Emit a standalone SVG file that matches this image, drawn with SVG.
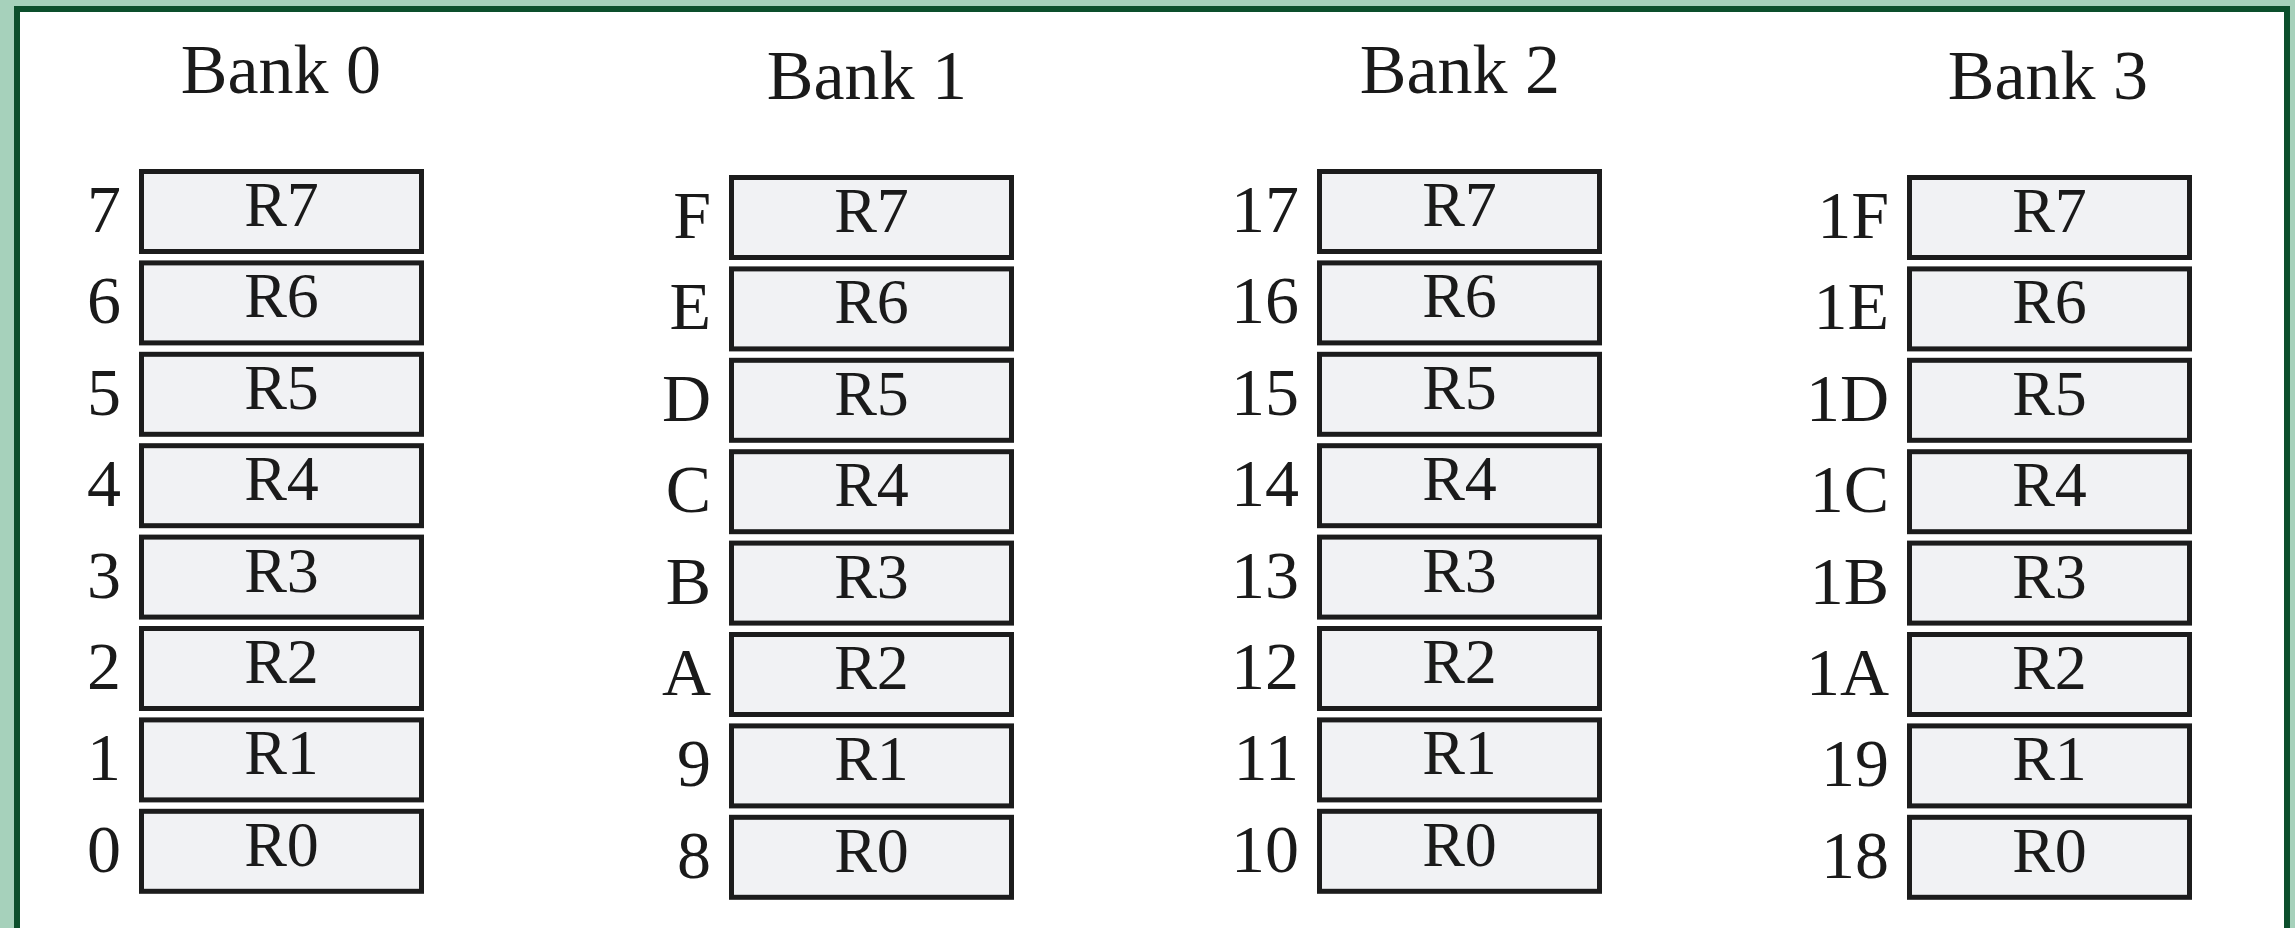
<svg xmlns="http://www.w3.org/2000/svg" width="2295" height="928" viewBox="0 0 2295 928">
  <style>
    .frame { fill: #ffffff; stroke: #0c4f2c; stroke-width: 6; }
    .reg { fill: #f1f2f4; stroke: #1c1c1c; stroke-width: 5; }
    text { font-family: "Liberation Serif", "Times New Roman", serif; fill: #1a1a1a; }
    .title { font-size: 70px; text-anchor: middle; }
    .name { font-size: 64px; text-anchor: middle; }
    .addr { font-size: 68px; text-anchor: end; }
  </style>
  <defs>
    <g id="cell"><rect class="reg" x="2.5" y="2.5" width="280" height="80"/></g>
  </defs>

  <!-- outer page -->
  <rect x="0" y="0" width="2295" height="928" fill="#a6d1bb"/>
  <rect class="frame" x="17" y="9" width="2270" height="940"/>

  <!-- Bank 0: addresses 00-07 -->
  <g id="bank0" transform="translate(139,169)">
    <text class="title" x="142" y="-76">Bank 0</text>
    <g id="bank0-r7" transform="translate(0,0)"><use href="#cell"/><text class="name" x="142.5" y="57">R7</text><text class="addr" x="-18" y="63">7</text></g>
    <g id="bank0-r6" transform="translate(0,91.4)"><use href="#cell"/><text class="name" x="142.5" y="57">R6</text><text class="addr" x="-18" y="63">6</text></g>
    <g id="bank0-r5" transform="translate(0,182.8)"><use href="#cell"/><text class="name" x="142.5" y="57">R5</text><text class="addr" x="-18" y="63">5</text></g>
    <g id="bank0-r4" transform="translate(0,274.2)"><use href="#cell"/><text class="name" x="142.5" y="57">R4</text><text class="addr" x="-18" y="63">4</text></g>
    <g id="bank0-r3" transform="translate(0,365.6)"><use href="#cell"/><text class="name" x="142.5" y="57">R3</text><text class="addr" x="-18" y="63">3</text></g>
    <g id="bank0-r2" transform="translate(0,457)"><use href="#cell"/><text class="name" x="142.5" y="57">R2</text><text class="addr" x="-18" y="63">2</text></g>
    <g id="bank0-r1" transform="translate(0,548.4)"><use href="#cell"/><text class="name" x="142.5" y="57">R1</text><text class="addr" x="-18" y="63">1</text></g>
    <g id="bank0-r0" transform="translate(0,639.8)"><use href="#cell"/><text class="name" x="142.5" y="57">R0</text><text class="addr" x="-18" y="63">0</text></g>
  </g>

  <!-- Bank 1: addresses 08-0F -->
  <g id="bank1" transform="translate(729,175)">
    <text class="title" x="138" y="-76">Bank 1</text>
    <g id="bank1-r7" transform="translate(0,0)"><use href="#cell"/><text class="name" x="142.5" y="57">R7</text><text class="addr" x="-18" y="63">F</text></g>
    <g id="bank1-r6" transform="translate(0,91.4)"><use href="#cell"/><text class="name" x="142.5" y="57">R6</text><text class="addr" x="-18" y="63">E</text></g>
    <g id="bank1-r5" transform="translate(0,182.8)"><use href="#cell"/><text class="name" x="142.5" y="57">R5</text><text class="addr" x="-18" y="63">D</text></g>
    <g id="bank1-r4" transform="translate(0,274.2)"><use href="#cell"/><text class="name" x="142.5" y="57">R4</text><text class="addr" x="-18" y="63">C</text></g>
    <g id="bank1-r3" transform="translate(0,365.6)"><use href="#cell"/><text class="name" x="142.5" y="57">R3</text><text class="addr" x="-18" y="63">B</text></g>
    <g id="bank1-r2" transform="translate(0,457)"><use href="#cell"/><text class="name" x="142.5" y="57">R2</text><text class="addr" x="-18" y="63">A</text></g>
    <g id="bank1-r1" transform="translate(0,548.4)"><use href="#cell"/><text class="name" x="142.5" y="57">R1</text><text class="addr" x="-18" y="63">9</text></g>
    <g id="bank1-r0" transform="translate(0,639.8)"><use href="#cell"/><text class="name" x="142.5" y="57">R0</text><text class="addr" x="-18" y="63">8</text></g>
  </g>

  <!-- Bank 2: addresses 10-17 -->
  <g id="bank2" transform="translate(1317,169)">
    <text class="title" x="143" y="-76">Bank 2</text>
    <g id="bank2-r7" transform="translate(0,0)"><use href="#cell"/><text class="name" x="142.5" y="57">R7</text><text class="addr" x="-18" y="63">17</text></g>
    <g id="bank2-r6" transform="translate(0,91.4)"><use href="#cell"/><text class="name" x="142.5" y="57">R6</text><text class="addr" x="-18" y="63">16</text></g>
    <g id="bank2-r5" transform="translate(0,182.8)"><use href="#cell"/><text class="name" x="142.5" y="57">R5</text><text class="addr" x="-18" y="63">15</text></g>
    <g id="bank2-r4" transform="translate(0,274.2)"><use href="#cell"/><text class="name" x="142.5" y="57">R4</text><text class="addr" x="-18" y="63">14</text></g>
    <g id="bank2-r3" transform="translate(0,365.6)"><use href="#cell"/><text class="name" x="142.5" y="57">R3</text><text class="addr" x="-18" y="63">13</text></g>
    <g id="bank2-r2" transform="translate(0,457)"><use href="#cell"/><text class="name" x="142.5" y="57">R2</text><text class="addr" x="-18" y="63">12</text></g>
    <g id="bank2-r1" transform="translate(0,548.4)"><use href="#cell"/><text class="name" x="142.5" y="57">R1</text><text class="addr" x="-18" y="63">11</text></g>
    <g id="bank2-r0" transform="translate(0,639.8)"><use href="#cell"/><text class="name" x="142.5" y="57">R0</text><text class="addr" x="-18" y="63">10</text></g>
  </g>

  <!-- Bank 3: addresses 18-1F -->
  <g id="bank3" transform="translate(1907,175)">
    <text class="title" x="141" y="-76">Bank 3</text>
    <g id="bank3-r7" transform="translate(0,0)"><use href="#cell"/><text class="name" x="142.5" y="57">R7</text><text class="addr" x="-18" y="63">1F</text></g>
    <g id="bank3-r6" transform="translate(0,91.4)"><use href="#cell"/><text class="name" x="142.5" y="57">R6</text><text class="addr" x="-18" y="63">1E</text></g>
    <g id="bank3-r5" transform="translate(0,182.8)"><use href="#cell"/><text class="name" x="142.5" y="57">R5</text><text class="addr" x="-18" y="63">1D</text></g>
    <g id="bank3-r4" transform="translate(0,274.2)"><use href="#cell"/><text class="name" x="142.5" y="57">R4</text><text class="addr" x="-18" y="63">1C</text></g>
    <g id="bank3-r3" transform="translate(0,365.6)"><use href="#cell"/><text class="name" x="142.5" y="57">R3</text><text class="addr" x="-18" y="63">1B</text></g>
    <g id="bank3-r2" transform="translate(0,457)"><use href="#cell"/><text class="name" x="142.5" y="57">R2</text><text class="addr" x="-18" y="63">1A</text></g>
    <g id="bank3-r1" transform="translate(0,548.4)"><use href="#cell"/><text class="name" x="142.5" y="57">R1</text><text class="addr" x="-18" y="63">19</text></g>
    <g id="bank3-r0" transform="translate(0,639.8)"><use href="#cell"/><text class="name" x="142.5" y="57">R0</text><text class="addr" x="-18" y="63">18</text></g>
  </g>
</svg>
